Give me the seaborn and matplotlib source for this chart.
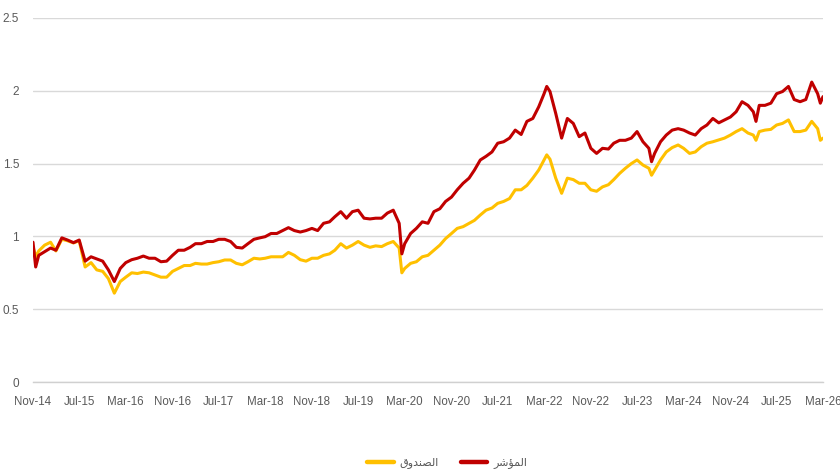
import matplotlib
matplotlib.use("Agg")
import matplotlib.pyplot as plt
import matplotlib.dates as mdates
from matplotlib.lines import Line2D
import seaborn as sns
import pandas as pd

# ---- data ----
dates = [
    "2014-11-01", "2014-11-15", "2014-12-01", "2015-01-01", "2015-02-01", "2015-03-01",
    "2015-04-01", "2015-05-01", "2015-06-01", "2015-07-01", "2015-08-01", "2015-09-01",
    "2015-10-01", "2015-11-01", "2015-12-01", "2016-01-01", "2016-02-01", "2016-03-01",
    "2016-04-01", "2016-05-01", "2016-06-01", "2016-07-01", "2016-08-01", "2016-09-01",
    "2016-10-01", "2016-11-01", "2016-12-01", "2017-01-01", "2017-02-01", "2017-03-01",
    "2017-04-01", "2017-05-01", "2017-06-01", "2017-07-01", "2017-08-01", "2017-09-01",
    "2017-10-01", "2017-11-01", "2017-12-01", "2018-01-01", "2018-02-01", "2018-03-01",
    "2018-04-01", "2018-05-01", "2018-06-01", "2018-07-01", "2018-08-01", "2018-09-01",
    "2018-10-01", "2018-11-01", "2018-12-01", "2019-01-01", "2019-02-01", "2019-03-01",
    "2019-04-01", "2019-05-01", "2019-06-01", "2019-07-01", "2019-08-01", "2019-09-01",
    "2019-10-01", "2019-11-01", "2019-12-01", "2020-01-01", "2020-02-01", "2020-02-15",
    "2020-03-01", "2020-04-01", "2020-05-01", "2020-06-01", "2020-07-01", "2020-08-01",
    "2020-09-01", "2020-10-01", "2020-11-01", "2020-12-01", "2021-01-01", "2021-02-01",
    "2021-03-01", "2021-04-01", "2021-05-01", "2021-06-01", "2021-07-01", "2021-08-01",
    "2021-09-01", "2021-10-01", "2021-11-01", "2021-12-01", "2022-01-01", "2022-02-01",
    "2022-03-01", "2022-03-15", "2022-04-01", "2022-05-01", "2022-06-01", "2022-07-01",
    "2022-08-01", "2022-09-01", "2022-10-01", "2022-11-01", "2022-12-01", "2023-01-01",
    "2023-02-01", "2023-03-01", "2023-04-01", "2023-05-01", "2023-06-01", "2023-07-01",
    "2023-08-01", "2023-09-01", "2023-09-15", "2023-10-01", "2023-11-01", "2023-12-01",
    "2024-01-01", "2024-02-01", "2024-03-01", "2024-04-01", "2024-05-01", "2024-06-01",
    "2024-07-01", "2024-08-01", "2024-09-01", "2024-10-01", "2024-11-01", "2024-12-01",
    "2025-01-01", "2025-02-01", "2025-03-01", "2025-03-15", "2025-04-01", "2025-05-01",
    "2025-06-01", "2025-07-01", "2025-08-01", "2025-09-01", "2025-10-01", "2025-11-01",
    "2025-12-01", "2026-01-01", "2026-02-01", "2026-02-15", "2026-03-01",
]

index_values = [  # المؤشر (red)
    0.96, 0.79, 0.87, 0.895, 0.92, 0.905,
    0.99, 0.975, 0.957, 0.975, 0.83, 0.86,
    0.845, 0.83, 0.77, 0.69, 0.78, 0.82,
    0.84, 0.85, 0.865, 0.85, 0.85, 0.826,
    0.83, 0.87, 0.905, 0.905, 0.925, 0.95,
    0.95, 0.965, 0.965, 0.98, 0.98, 0.965,
    0.925, 0.92, 0.95, 0.98, 0.99, 0.998,
    1.02, 1.02, 1.04, 1.06, 1.04, 1.03,
    1.04, 1.055, 1.04, 1.09, 1.10, 1.135,
    1.17, 1.125, 1.17, 1.18, 1.125, 1.12,
    1.125, 1.125, 1.16, 1.18, 1.09, 0.88,
    0.95, 1.02, 1.055, 1.10, 1.09, 1.17,
    1.19, 1.24, 1.27, 1.32, 1.365, 1.40,
    1.455, 1.525, 1.55, 1.58, 1.64, 1.65,
    1.675, 1.73, 1.70, 1.79, 1.81, 1.89,
    1.98, 2.03, 1.995, 1.845, 1.675, 1.81,
    1.776, 1.685, 1.71, 1.605, 1.57, 1.605,
    1.60, 1.64, 1.66, 1.66, 1.675, 1.72,
    1.65, 1.605, 1.513, 1.57, 1.65, 1.696,
    1.73, 1.74, 1.73, 1.71, 1.696, 1.74,
    1.765, 1.81, 1.78, 1.80, 1.82, 1.856,
    1.925, 1.90, 1.856, 1.79, 1.90, 1.90,
    1.915, 1.98, 1.995, 2.03, 1.94, 1.925,
    1.94, 2.06, 1.98, 1.915, 1.96,
]

fund_values = [  # الصندوق (yellow)
    0.93, 0.86, 0.90, 0.94, 0.96, 0.90,
    0.98, 0.97, 0.955, 0.97, 0.79, 0.82,
    0.77, 0.76, 0.71, 0.61, 0.69, 0.72,
    0.75, 0.745, 0.755, 0.75, 0.735, 0.72,
    0.72, 0.76, 0.78, 0.80, 0.80, 0.815,
    0.81, 0.81, 0.82, 0.826, 0.838, 0.838,
    0.815, 0.805, 0.826, 0.85, 0.845, 0.85,
    0.86, 0.86, 0.86, 0.89, 0.87, 0.84,
    0.83, 0.85, 0.85, 0.87, 0.88, 0.905,
    0.95, 0.92, 0.94, 0.965, 0.94, 0.925,
    0.935, 0.93, 0.95, 0.965, 0.92, 0.75,
    0.78, 0.815, 0.826, 0.86, 0.87, 0.905,
    0.94, 0.985, 1.02, 1.055, 1.067, 1.09,
    1.11, 1.147, 1.18, 1.195, 1.227, 1.24,
    1.26, 1.32, 1.32, 1.35, 1.40, 1.456,
    1.525, 1.56, 1.53, 1.40, 1.296, 1.40,
    1.39, 1.365, 1.365, 1.32, 1.31, 1.34,
    1.355, 1.39, 1.433, 1.468, 1.50, 1.525,
    1.49, 1.468, 1.42, 1.456, 1.525, 1.58,
    1.61, 1.628, 1.605, 1.57, 1.58, 1.616,
    1.64, 1.65, 1.663, 1.675, 1.696, 1.72,
    1.74, 1.71, 1.696, 1.66, 1.72, 1.73,
    1.735, 1.765, 1.776, 1.80, 1.72, 1.72,
    1.73, 1.79, 1.74, 1.66, 1.675,
]

# Arabic labels (logical text) and their shaped, visually ordered forms for rendering
fund_label = "الصندوق"
index_label = "المؤشر"
fund_label_shown = "\uFED5\uFEED\uFEAA\uFEE8\uFEBC\uFEDF\uFE8D"
index_label_shown = "\uFEAE\uFEB7\uFE86\uFEE4\uFEDF\uFE8D"

y_ticks = [0, 0.5, 1, 1.5, 2, 2.5]
y_tick_labels = ["0", "0.5", "1", "1.5", "2", "2.5"]

# ---- build table ----
df = pd.concat([
    pd.DataFrame({"date": pd.to_datetime(dates), "value": fund_values, "series": fund_label}),
    pd.DataFrame({"date": pd.to_datetime(dates), "value": index_values, "series": index_label}),
])

sns.set_style("white")
plt.rcParams["font.family"] = ["Liberation Sans Narrow", "Liberation Sans", "DejaVu Sans"]

fig = plt.figure(figsize=(8.4, 4.73), dpi=100)
ax = fig.add_axes([33 / 840, 1 - 382 / 473, (823 - 33) / 840, (382 - 18) / 473])

palette = {fund_label: "#FFC000", index_label: "#C00000"}
sns.lineplot(data=df, x="date", y="value", hue="series",
             hue_order=[fund_label, index_label], palette=palette,
             linewidth=2.2, ax=ax, legend=False)

ax.set_xlim(pd.Timestamp("2014-11-01"), pd.Timestamp("2026-03-01"))
ax.set_ylim(0, 2.5)
ax.set_yticks(y_ticks)
ax.set_yticklabels(y_tick_labels)
ax.yaxis.grid(True, color="#d9d9d9", linewidth=1.0)
ax.xaxis.grid(False)
ax.set_axisbelow(True)

xt = pd.date_range("2014-11-01", "2026-03-01", freq="8MS")
ax.set_xticks(xt)
ax.xaxis.set_major_formatter(mdates.DateFormatter("%b-%y"))

for s in ["top", "right", "left"]:
    ax.spines[s].set_visible(False)
ax.spines["bottom"].set_color("#d0d0d0")
ax.spines["bottom"].set_linewidth(1.0)

ax.tick_params(axis="x", direction="out", length=5, width=1, color="#d0d0d0",
               labelsize=8.3, labelcolor="#595959", pad=5)
ax.tick_params(axis="y", length=0, labelsize=8.5, labelcolor="#595959", pad=10)
ax.set_xlabel("")
ax.set_ylabel("")

handles = [Line2D([], [], color="#FFC000", linewidth=3.2),
           Line2D([], [], color="#C00000", linewidth=3.2)]
leg = fig.legend(handles, [fund_label_shown, index_label_shown], loc="center",
                 bbox_to_anchor=(447 / 840, 1 - 463 / 473), ncol=2, frameon=False,
                 handlelength=2.4, handletextpad=0.5, columnspacing=2.0,
                 prop={"family": ["DejaVu Sans"], "size": 8})
for t in leg.get_texts():
    t.set_color("#595959")

fig.savefig("out.png", dpi=100)
